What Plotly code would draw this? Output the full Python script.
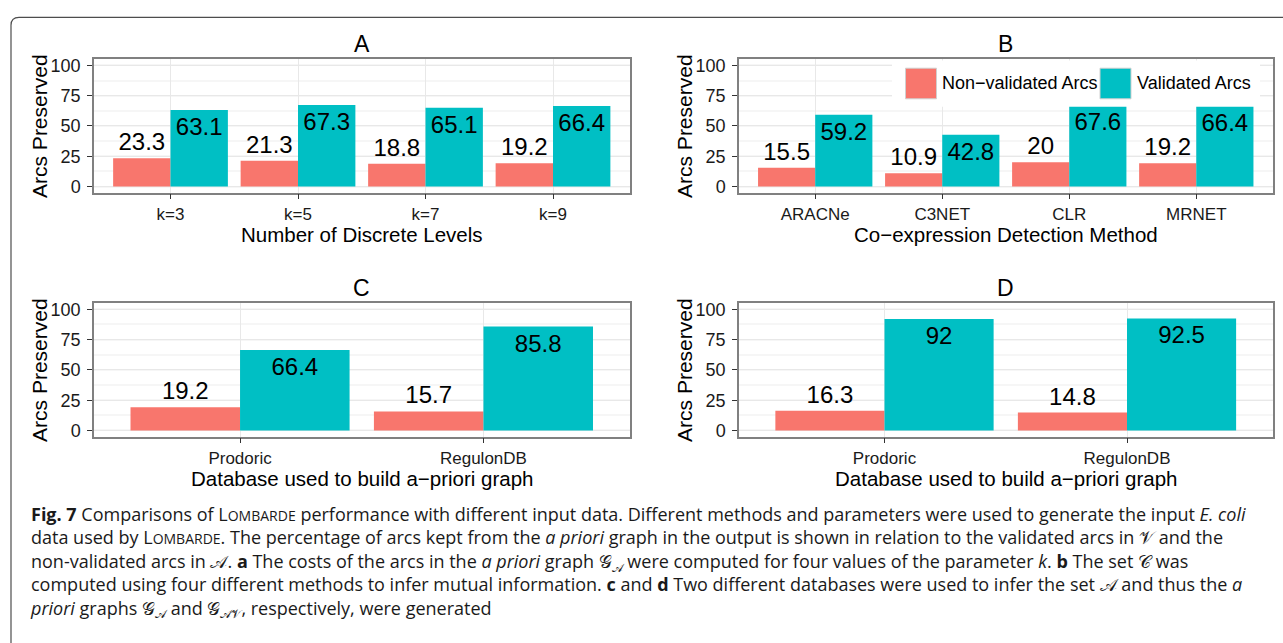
import plotly.graph_objects as go

# ---------------- data ----------------
cats_A = ["k=3", "k=5", "k=7", "k=9"]
nonval_A = [23.3, 21.3, 18.8, 19.2]
val_A = [63.1, 67.3, 65.1, 66.4]

cats_B = ["ARACNe", "C3NET", "CLR", "MRNET"]
nonval_B = [15.5, 10.9, 20, 19.2]
val_B = [59.2, 42.8, 67.6, 66.4]

cats_C = ["Prodoric", "RegulonDB"]
nonval_C = [19.2, 15.7]
val_C = [66.4, 85.8]

cats_D = ["Prodoric", "RegulonDB"]
nonval_D = [16.3, 14.8]
val_D = [92, 92.5]

panel_titles = ["A", "B", "C", "D"]
x_titles = ["Number of Discrete Levels", "Co\u2212expression Detection Method",
            "Database used to build a\u2212priori graph", "Database used to build a\u2212priori graph"]
y_title = "Arcs Preserved"
series_names = ["Non\u2212validated Arcs", "Validated Arcs"]
y_ticks = [0, 25, 50, 75, 100]

# ---------------- style ----------------
W, H = 1283, 643
RED = "#F8766D"
TEAL = "#00BFC4"
FONT = "Liberation Sans, Arial, Helvetica, sans-serif"
CAP_FONT = "Open Sans, Noto Sans, sans-serif"


def px(x):
    return x / W


def py(y):
    return 1 - y / H


# panel geometry in pixels: (left, right, top, bottom)
panels = [
    (94, 629.5, 56, 191),
    (739, 1272.5, 56, 191),
    (94, 629.5, 303, 438),
    (739, 1272.5, 303, 438),
]

data = [(cats_A, nonval_A, val_A), (cats_B, nonval_B, val_B),
        (cats_C, nonval_C, val_C), (cats_D, nonval_D, val_D)]

fig = go.Figure()
annotations = []
shapes = []

for i, ((cats, nv, v), (l, r, t, b)) in enumerate(zip(data, panels)):
    ax = "" if i == 0 else str(i + 1)
    fig.add_trace(go.Bar(
        x=cats, y=nv, name=series_names[0], marker_color=RED, marker_line_width=0,
        xaxis="x" + ax, yaxis="y" + ax, offsetgroup="nv",
        texttemplate="%{y}", textposition="outside", cliponaxis=False,
        outsidetextfont=dict(size=24, color="#000000", family=FONT),
        constraintext="none", showlegend=False, hoverinfo="skip"))
    fig.add_trace(go.Bar(
        x=cats, y=v, name=series_names[1], marker_color=TEAL, marker_line_width=0,
        xaxis="x" + ax, yaxis="y" + ax, offsetgroup="v",
        texttemplate="%{y}", textposition="inside", insidetextanchor="end",
        insidetextfont=dict(size=24, color="#000000", family=FONT),
        constraintext="none", showlegend=False, hoverinfo="skip"))

    n = len(cats)
    fig.layout["xaxis" + ax] = dict(
        domain=[px(l), px(r)], anchor="y" + ax, type="category",
        range=[-0.6, n - 0.4], showgrid=True, gridcolor="#e8e8e8", gridwidth=1,
        showline=True, mirror=True, linecolor="#808080", linewidth=1.5,
        ticks="outside", ticklen=5, tickwidth=1.2, tickcolor="#333333",
        tickfont=dict(size=17, color="#1a1a1a", family=FONT),
        ticklabelstandoff=0, zeroline=False, fixedrange=True)
    fig.layout["yaxis" + ax] = dict(
        domain=[py(b), py(t)], anchor="x" + ax, range=[-5, 105],
        tickvals=y_ticks, showgrid=True, gridcolor="#e8e8e8", gridwidth=1,
        minor=dict(dtick=12.5, tick0=0, showgrid=True, gridcolor="#f6f6f6", gridwidth=1.5),
        showline=True, mirror=True, linecolor="#808080", linewidth=1.5,
        ticks="outside", ticklen=5, tickwidth=1.2, tickcolor="#333333",
        tickfont=dict(size=18, color="#1a1a1a", family=FONT),
        ticklabelstandoff=3, zeroline=False, fixedrange=True)

    cx = (l + r) / 2
    # panel title
    annotations.append(dict(text=panel_titles[i], x=px(cx), y=py(t - 15), xref="paper", yref="paper",
                            showarrow=False, xanchor="center", yanchor="middle",
                            font=dict(size=23, color="#000000", family=FONT)))
    # x axis title
    annotations.append(dict(text=x_titles[i], x=px(cx), y=py(b + 42), xref="paper", yref="paper",
                            showarrow=False, xanchor="center", yanchor="middle",
                            font=dict(size=20.5, color="#000000", family=FONT)))
    # y axis title
    annotations.append(dict(text=y_title, x=px(l - 54), y=py((t + b) / 2), xref="paper", yref="paper",
                            showarrow=False, xanchor="center", yanchor="middle", textangle=-90,
                            font=dict(size=21, color="#000000", family=FONT)))

# ---- legend inside panel B (drawn manually) ----
shapes.append(dict(type="rect", xref="paper", yref="paper", x0=px(892), x1=px(1260), y0=py(104), y1=py(57.2),
                   fillcolor="#ffffff", line=dict(width=0), layer="above"))
shapes.append(dict(type="rect", xref="paper", yref="paper", x0=px(905.5), x1=px(936.5), y0=py(96), y1=py(65),
                   fillcolor=RED, line=dict(color="#d0d0d0", width=1), layer="above"))
shapes.append(dict(type="rect", xref="paper", yref="paper", x0=px(1100), x1=px(1131), y0=py(96), y1=py(65),
                   fillcolor=TEAL, line=dict(color="#d0d0d0", width=1), layer="above"))
annotations.append(dict(text=series_names[0], x=px(940), y=py(80.5), xref="paper", yref="paper",
                        showarrow=False, xanchor="left", yanchor="middle",
                        font=dict(size=18, color="#000000", family=FONT)))
annotations.append(dict(text=series_names[1], x=px(1134.5), y=py(80.5), xref="paper", yref="paper",
                        showarrow=False, xanchor="left", yanchor="middle",
                        font=dict(size=18, color="#000000", family=FONT)))

# ---- figure frame (rounded top-left corner) ----
r0 = 8
fx0, fy0 = 11, 13.5
path = (f"M {px(fx0)},{py(H + 5)} L {px(fx0)},{py(fy0 + r0)} "
        f"Q {px(fx0)},{py(fy0)} {px(fx0 + r0)},{py(fy0)} L {px(W + 5)},{py(fy0)}")
shapes.append(dict(type="path", xref="paper", yref="paper", path=path,
                   line=dict(color="#4d4d4d", width=1.2), layer="above"))

# ---- caption ----
S = "<span style='font-size:14px'>OMBARDE</span>"
LOMB = "L" + S
SUB_A = "<sub><span style='font-size:12px'>\U0001D49C</span></sub>"
SUB_AV = "<sub><span style='font-size:12px'>\U0001D49C\U0001D4B1</span></sub>"
cap_lines = [
    "<b>Fig. 7</b> Comparisons of " + LOMB + " performance with different input data. Different methods and parameters were used to generate the input <i>E. coli</i>",
    "data used by " + LOMB + ". The percentage of arcs kept from the <i>a priori</i> graph in the output is shown in relation to the validated arcs in \U0001D4B1 and the",
    "non-validated arcs in \U0001D49C. <b>a</b> The costs of the arcs in the <i>a priori</i> graph \U0001D4A2" + SUB_A + " were computed for four values of the parameter <i>k</i>. <b>b</b> The set \U0001D49E was",
    "computed using four different methods to infer mutual information. <b>c</b> and <b>d</b> Two different databases were used to infer the set \U0001D49C and thus the <i>a</i>",
    "<i>priori</i> graphs \U0001D4A2" + SUB_A + " and \U0001D4A2" + SUB_AV + ", respectively, were generated",
]
annotations.append(dict(text="<br>".join(cap_lines), x=px(28), y=py(565), xref="paper", yref="paper",
                        showarrow=False, xanchor="left", yanchor="middle", align="left",
                        font=dict(size=18, color="#1a1a1a", family=CAP_FONT)))

fig.update_layout(
    width=W, height=H, margin=dict(l=0, r=0, t=0, b=0),
    paper_bgcolor="#ffffff", plot_bgcolor="#ffffff",
    barmode="group", bargap=0.1, bargroupgap=0,
    showlegend=False, annotations=annotations, shapes=shapes,
    font=dict(family=FONT),
)

fig.write_html("out.html")
